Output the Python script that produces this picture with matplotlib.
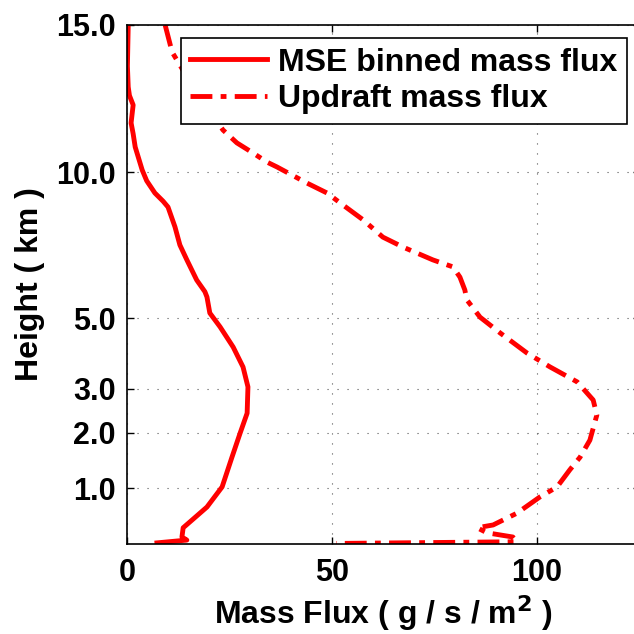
import numpy as np
import matplotlib
matplotlib.use("Agg")
import matplotlib.pyplot as plt

plt.rcParams['font.family'] = ['Liberation Sans', 'DejaVu Sans']
plt.rcParams['font.weight'] = 'bold'

# MSE binned mass flux (g/s/m^2) vs height (km)
mse_height = [15.0, 13.6, 12.89, 12.6, 12.28, 11.67, 11.3, 10.85, 10.07, 9.7, 9.28, 9.0,
              8.80, 8.12, 7.5, 6.99, 6.30, 5.9, 5.72, 5.17, 4.75, 4.18, 3.62, 3.06,
              2.45, 2.00, 1.56, 1.02, 0.66, 0.43, 0.29, 0.125, 0.07, 0.02]
mse_flux = [0.3, 0.1, 0.3, 0.6, 1.5, 1.0, 1.5, 2.0, 3.7, 4.8, 6.8, 8.8,
            10.0, 11.7, 12.9, 14.6, 17.0, 19.0, 19.5, 20.2, 22.7, 25.9, 28.3, 29.5,
            29.3, 27.6, 25.6, 23.2, 19.5, 15.9, 13.7, 13.4, 14.6, 7.3]

# Updraft mass flux (g/s/m^2) vs height (km)
upd_height = [15.0, 14.08, 12.8, 11.43, 10.99, 10.65, 10.34, 10.17, 9.62, 9.28, 8.94,
              8.36, 7.77, 7.43, 6.99, 6.75, 6.40, 5.96, 5.62, 5.03, 4.58, 4.01,
              3.62, 3.20, 2.75, 2.41, 1.87, 1.56, 1.33, 1.02, 0.84, 0.55, 0.34,
              0.29, 0.20, 0.125, 0.04, 0.01]
upd_flux = [9.3, 11.0, 16.5, 23.4, 26.8, 30.7, 34.1, 36.6, 43.9, 48.8, 52.0,
            57.6, 62.4, 67.3, 74.6, 79.5, 81.2, 82.4, 82.9, 86.1, 91.0, 97.6,
            103.2, 109.8, 113.7, 114.6, 112.9, 110.5, 108.0, 104.9, 100.7, 95.1, 89.3,
            85.4, 87.8, 94.1, 95.1, 51.0]

y_ticks = [1.0, 2.0, 3.0, 5.0, 10.0, 15.0]
y_ticklabels = ['1.0', '2.0', '3.0', '5.0', '10.0', '15.0']
x_ticks = [0, 50, 100]
x_ticklabels = ['0', '50', '100']

# non-uniform vertical axis (model-level spacing)
h_knots = np.array([0.0, 1.0, 2.0, 3.0, 5.0, 10.0, 15.0])
p_knots = np.array([0.0, 56.0, 111.0, 155.0, 226.0, 372.0, 519.0])


def _interp_ext(v, xk, yk):
    v = np.asarray(v, dtype=float)
    out = np.interp(v, xk, yk)
    lo = v < xk[0]
    hi = v > xk[-1]
    s0 = (yk[1] - yk[0]) / (xk[1] - xk[0])
    s1 = (yk[-1] - yk[-2]) / (xk[-1] - xk[-2])
    out = np.where(lo, yk[0] + (v - xk[0]) * s0, out)
    out = np.where(hi, yk[-1] + (v - xk[-1]) * s1, out)
    return out


def fwd(h):
    return _interp_ext(h, h_knots, p_knots)


def inv(p):
    return _interp_ext(p, p_knots, h_knots)


fig = plt.figure(figsize=(6.34, 6.34), dpi=100)
W = H = 634.0
ax = fig.add_axes([127 / W, 90 / H, 512.5 / W, 519 / H])
ax.set_yscale('function', functions=(fwd, inv))

lw = 3.5
ax.plot(mse_flux, mse_height, color='#ff0000', lw=lw, solid_joinstyle='round',
        label='MSE binned mass flux')
ax.plot(upd_flux, upd_height, color='#ff0000', lw=lw,
        dashes=(4.5, 1.7, 1.2, 1.7), label='Updraft mass flux')

ax.set_xlim(0, 125)
ax.set_ylim(0, 15)
ax.set_yticks(y_ticks)
ax.set_yticklabels(y_ticklabels)
ax.set_xticks(x_ticks)
ax.set_xticklabels(x_ticklabels)
ax.minorticks_off()

ax.grid(True, linestyle=(0, (1, 8)), color='#555555', lw=0.8)
ax.tick_params(direction='in', length=5, width=1.0, labelsize=22,
               top=True, right=True)
ax.tick_params(axis='x', pad=10)
ax.tick_params(axis='y', pad=8)
for lab in ax.get_xticklabels() + ax.get_yticklabels():
    lab.set_fontweight('bold')
for sp in ax.spines.values():
    sp.set_linewidth(1.2)

ax.set_xlabel('Mass Flux ( g / s / m$^{\\mathbf{2}}$ )', fontsize=23,
              fontweight='bold', labelpad=4)
ax.set_ylabel('Height ( km )', fontsize=23, fontweight='bold', labelpad=8)

leg = ax.legend(loc='upper right', bbox_to_anchor=(627 / W, 1 - 38 / H),
                bbox_transform=fig.transFigure, fontsize=23, frameon=True,
                fancybox=False, edgecolor='black', framealpha=1.0,
                handlelength=2.4, handletextpad=0.35, borderpad=0.3,
                labelspacing=0.2, borderaxespad=0)
leg.get_frame().set_linewidth(1.2)
for t in leg.get_texts():
    t.set_fontweight('bold')

fig.savefig('out.png', dpi=100)
